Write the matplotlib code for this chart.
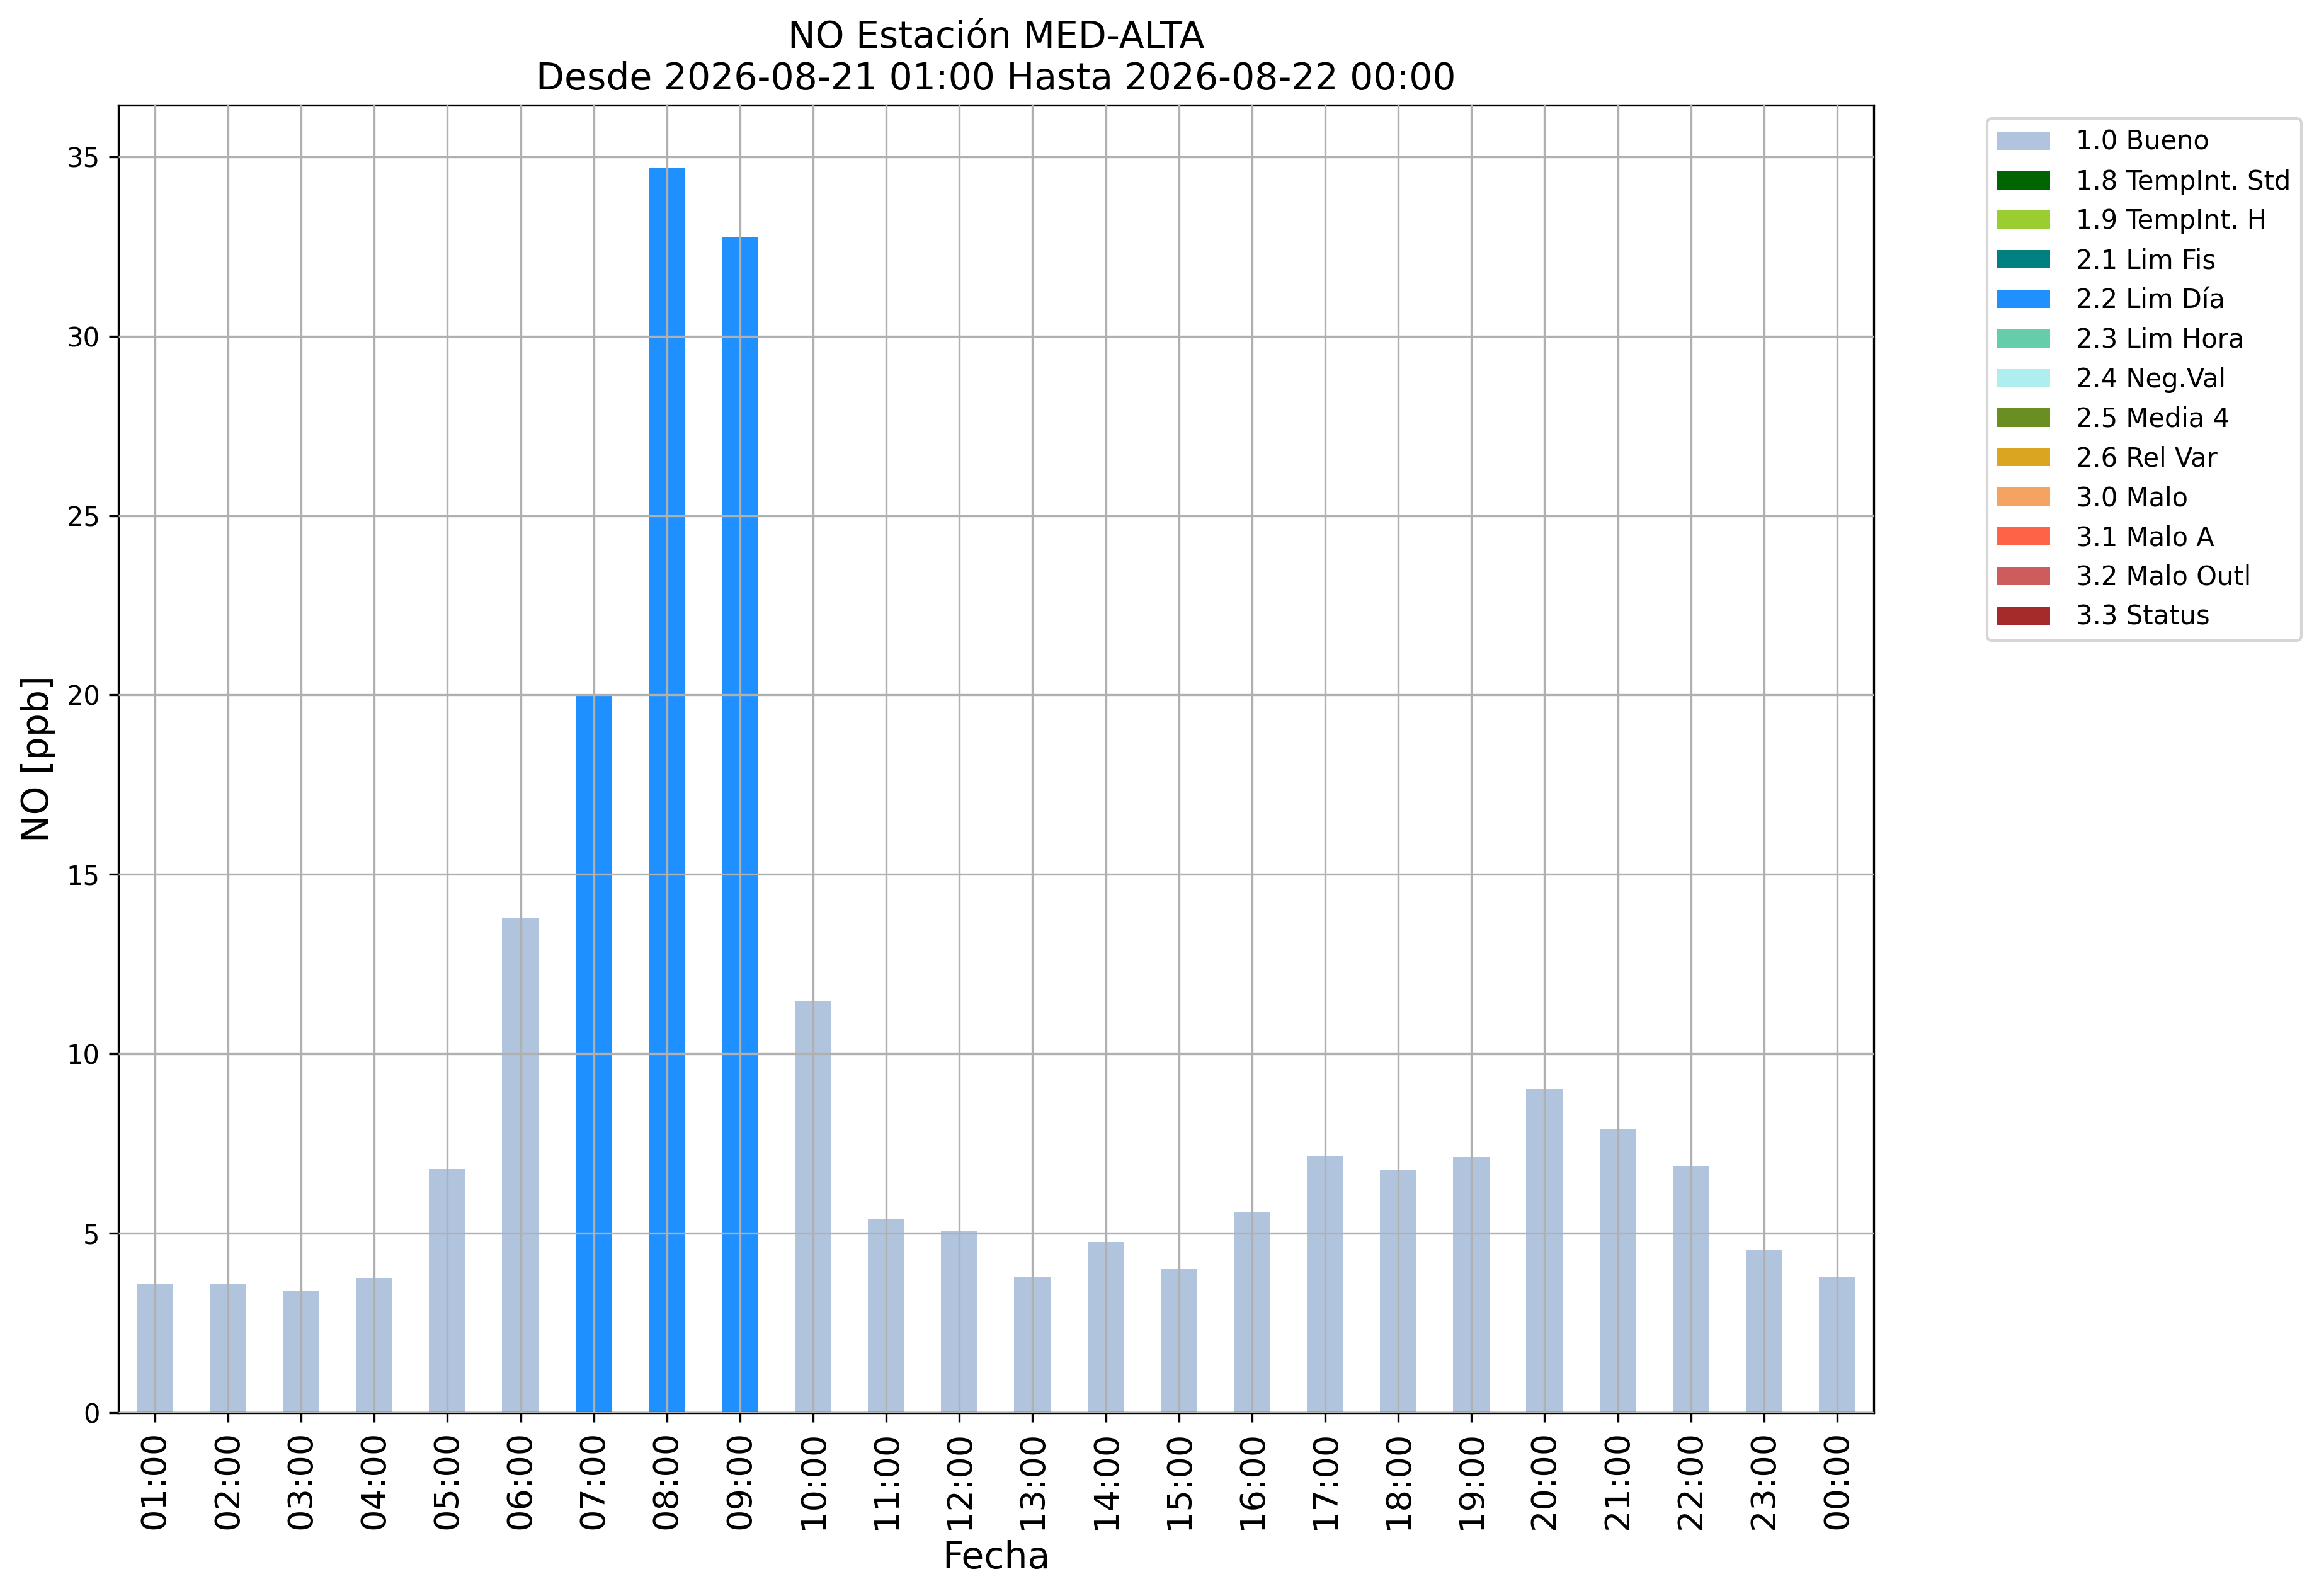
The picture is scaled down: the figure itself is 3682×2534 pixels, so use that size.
import numpy as np
import matplotlib
matplotlib.use("Agg")
import matplotlib.pyplot as plt

horas = ["01:00", "02:00", "03:00", "04:00", "05:00", "06:00", "07:00", "08:00",
         "09:00", "10:00", "11:00", "12:00", "13:00", "14:00", "15:00", "16:00",
         "17:00", "18:00", "19:00", "20:00", "21:00", "22:00", "23:00", "00:00"]
no_ppb = [3.58, 3.6, 3.38, 3.75, 6.79, 13.79, 19.97, 34.7, 32.77, 11.45, 5.39, 5.06,
          3.79, 4.75, 3.99, 5.58, 7.16, 6.75, 7.12, 9.02, 7.9, 6.88, 4.53, 3.79]
flag = ["1.0", "1.0", "1.0", "1.0", "1.0", "1.0", "2.2", "2.2", "2.2", "1.0", "1.0", "1.0",
        "1.0", "1.0", "1.0", "1.0", "1.0", "1.0", "1.0", "1.0", "1.0", "1.0", "1.0", "1.0"]

codigos = ["1.0", "1.8", "1.9", "2.1", "2.2", "2.3", "2.4", "2.5", "2.6", "3.0", "3.1", "3.2", "3.3"]
nombres = ["Bueno", "TempInt. Std", "TempInt. H", "Lim Fis", "Lim Día", "Lim Hora",
           "Neg.Val", "Media 4", "Rel Var", "Malo", "Malo A", "Malo Outl", "Status"]
colores = ["lightsteelblue", "darkgreen", "yellowgreen", "teal", "dodgerblue",
           "mediumaquamarine", "paleturquoise", "olivedrab", "goldenrod", "sandybrown",
           "tomato", "indianred", "brown"]

valores = np.array(no_ppb)
flags = np.array(flag)
x = np.arange(len(horas))

fig = plt.figure(figsize=(3682 / 300, 2534 / 300), dpi=300)
ax = fig.add_axes([0.051, 0.115, 0.757, 0.819])

abajo = np.zeros(len(horas))
for cod, nom, col in zip(codigos, nombres, colores):
    h = np.where(flags == cod, valores, 0.0)
    ax.bar(x, h, width=0.5, bottom=abajo, color=col, label=f"{cod} {nom}")
    abajo += h

ax.set_xlim(-0.5, len(horas) - 0.5)
ax.set_ylim(0, valores.max() * 1.05)
ax.set_xticks(x)
ax.set_xticklabels(horas, rotation=90, fontsize=13)
ax.tick_params(axis="y", labelsize=10)
ax.set_axisbelow(False)
ax.grid(True, color="#b0b0b0", linewidth=0.8)

ax.set_xlabel("Fecha", fontsize=14)
ax.set_ylabel("NO [ppb]", fontsize=14)
ax.set_title("NO Estación MED-ALTA\nDesde 2026-08-21 01:00 Hasta 2026-08-22 00:00", fontsize=14)
ax.legend(bbox_to_anchor=(1.057, 1.0), loc="upper left", fontsize=10, handletextpad=1.0)

fig.savefig("out.png", dpi=300)
